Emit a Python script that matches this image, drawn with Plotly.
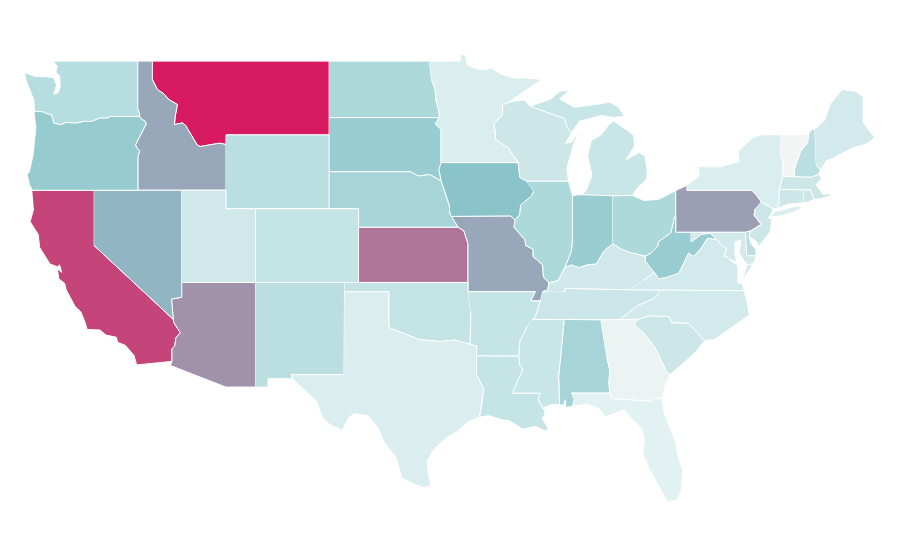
import plotly.graph_objects as go
from plotly.colors import sample_colorscale

# state outlines as (lon, lat), no network here so the plotly topojson can't load
WA = [(-122.76,49),(-117.04,49),(-117.04,46.42),(-116.92,46.17),(-116.92,46),(-118.98,46),(-119,45.93),(-119.6,45.92),(-120.2,45.73),(-120.65,45.74),(-121.2,45.65),(-121.9,45.68),(-122.3,45.55),(-122.75,45.65),(-122.8,45.85),(-122.9,46.1),(-123.2,46.15),(-123.5,46.26),(-124.05,46.27),(-124.1,46.9),(-124.3,47.3),(-124.6,47.9),(-124.73,48.38),(-124,48.17),(-123.2,48.15),(-122.75,48.1),(-122.55,47.7),(-122.75,47.2),(-122.45,47.3),(-122.3,47.6),(-122.35,48.2),(-122.6,48.4),(-122.5,48.75)]
OR = [(-124.05,46.27),(-123.5,46.26),(-123.2,46.15),(-122.9,46.1),(-122.8,45.85),(-122.75,45.65),(-122.3,45.55),(-121.9,45.68),(-121.2,45.65),(-120.65,45.74),(-120.2,45.73),(-119.6,45.92),(-119,45.93),(-118.98,46),(-116.92,46),(-116.78,45.85),(-116.55,45.75),(-116.46,45.6),(-116.67,45.3),(-116.85,45),(-117.2,44.45),(-117.05,44.23),(-116.9,44.15),(-117.03,43.83),(-117.03,42),(-124.2,42),(-124.4,42.3),(-124.55,42.85),(-124.4,43),(-124.15,43.9),(-124.05,44.7),(-123.95,45.5)]
CA = [(-124.2,42),(-120,42),(-120,39),(-114.63,35),(-114.57,34.8),(-114.15,34.27),(-114.45,34),(-114.53,33.55),(-114.72,33.4),(-114.72,32.72),(-117.12,32.53),(-117.25,32.85),(-117.3,33.05),(-117.9,33.6),(-118.4,33.75),(-118.5,34.03),(-119.2,34.15),(-119.6,34.42),(-120.47,34.45),(-120.65,34.9),(-120.9,35.4),(-121.3,35.7),(-121.9,36.6),(-122,36.95),(-122.4,37.2),(-122.5,37.75),(-122.2,37.55),(-122.35,37.95),(-122.5,37.85),(-123,38),(-123.7,38.9),(-123.8,39.6),(-124.35,40.3),(-124.1,41)]
NV = [(-120,42),(-114.05,42),(-114.05,36.2),(-114.75,36.1),(-114.63,35),(-120,39)]
ID = [(-117.04,49),(-116.05,49),(-116.05,48),(-115.7,47.45),(-115.3,47.25),(-114.95,46.93),(-114.35,46.65),(-114.5,46),(-114.55,45.56),(-114,45.65),(-113.8,45.52),(-113.45,45.05),(-113,44.45),(-112.8,44.37),(-111.5,44.55),(-111.05,44.48),(-111.05,42),(-117.03,42),(-117.03,43.83),(-116.9,44.15),(-117.05,44.23),(-117.2,44.45),(-116.85,45),(-116.67,45.3),(-116.46,45.6),(-116.55,45.75),(-116.78,45.85),(-116.92,46),(-116.92,46.17),(-117.04,46.42)]
MT = [(-116.05,49),(-104.05,49),(-104.05,45),(-111.05,45),(-111.05,44.48),(-111.5,44.55),(-112.8,44.37),(-113,44.45),(-113.45,45.05),(-113.8,45.52),(-114,45.65),(-114.55,45.56),(-114.5,46),(-114.35,46.65),(-114.95,46.93),(-115.3,47.25),(-115.7,47.45),(-116.05,48)]
WY = [(-111.05,45),(-104.05,45),(-104.05,41),(-111.05,41)]
UT = [(-114.05,42),(-111.05,42),(-111.05,41),(-109.05,41),(-109.05,37),(-114.05,37)]
AZ = [(-114.05,37),(-109.05,37),(-109.05,31.33),(-111.07,31.33),(-114.82,32.5),(-114.72,32.72),(-114.72,33.4),(-114.53,33.55),(-114.45,34),(-114.15,34.27),(-114.57,34.8),(-114.63,35),(-114.75,36.1),(-114.05,36.2)]
NM = [(-109.05,37),(-103,37),(-103.04,32),(-106.62,32),(-106.53,31.78),(-108.2,31.78),(-108.2,31.33),(-109.05,31.33)]
CO = [(-109.05,41),(-102.05,41),(-102.05,37),(-109.05,37)]
ND = [(-104.05,49),(-97.23,49),(-97.1,48),(-96.85,47.5),(-96.8,46.9),(-96.6,46.3),(-96.56,45.94),(-104.05,45.94)]
SD = [(-104.05,45.94),(-96.56,45.94),(-96.85,45.6),(-96.45,45.3),(-96.45,43.5),(-96.6,43.1),(-96.45,42.5),(-97.2,42.85),(-98,42.77),(-98.5,43),(-104.05,43)]
NE = [(-104.05,43),(-98.5,43),(-98,42.77),(-97.2,42.85),(-96.45,42.5),(-96.1,41.7),(-95.9,41.2),(-95.85,40.7),(-95.3,40),(-102.05,40),(-102.05,41),(-104.05,41)]
KS = [(-102.05,40),(-95.3,40),(-94.9,39.8),(-94.62,39.1),(-94.62,37),(-102.05,37)]
OK = [(-103,37),(-94.62,37),(-94.62,36.5),(-94.43,35.4),(-94.48,33.64),(-95.5,33.88),(-96.5,33.8),(-97.2,33.85),(-97.9,33.9),(-98.9,34.2),(-100,34.56),(-100,36.5),(-103,36.5)]
TX = [(-103,36.5),(-100,36.5),(-100,34.56),(-98.9,34.2),(-97.9,33.9),(-97.2,33.85),(-96.5,33.8),(-95.5,33.88),(-94.48,33.64),(-94.04,33.55),(-94.04,33.02),(-94.04,31.99),(-93.55,31.2),(-93.7,30.3),(-93.85,29.7),(-94.7,29.4),(-95.2,29),(-96.2,28.5),(-97,27.9),(-97.4,27.3),(-97.3,26.6),(-97.15,25.96),(-97.6,25.88),(-98.2,26.05),(-99.1,26.4),(-99.5,27.5),(-100.3,28.3),(-100.7,29.1),(-101.4,29.77),(-102.3,29.88),(-102.7,29.7),(-103.15,28.98),(-104,29.3),(-104.5,29.65),(-104.9,30.55),(-106.53,31.78),(-106.62,32),(-103.04,32)]
MN = [(-97.23,49),(-95.15,49),(-95.15,49.38),(-94.8,49.33),(-94.65,48.75),(-93.8,48.55),(-93,48.6),(-92.4,48.3),(-91.4,48.07),(-90.75,48.1),(-89.6,48),(-90.9,47.3),(-92.02,46.7),(-92.29,46.66),(-92.29,46.1),(-92.85,45.6),(-92.75,45),(-92.75,44.75),(-91.9,44.3),(-91.22,43.5),(-96.45,43.5),(-96.45,45.3),(-96.85,45.6),(-96.56,45.94),(-96.6,46.3),(-96.8,46.9),(-96.85,47.5),(-97.1,48)]
IA = [(-96.45,43.5),(-91.22,43.5),(-91.1,42.7),(-90.65,42.5),(-90.15,41.95),(-90.3,41.7),(-91.05,41.2),(-91.1,40.7),(-91.42,40.38),(-91.73,40.61),(-95.77,40.58),(-95.85,40.7),(-95.9,41.2),(-96.1,41.7),(-96.45,42.5),(-96.6,43.1)]
MO = [(-95.77,40.58),(-91.73,40.61),(-91.42,40.38),(-91.5,40),(-90.75,39.3),(-90.7,39),(-90.2,38.8),(-90.2,38.4),(-89.55,37.95),(-89.5,37.3),(-89.13,36.98),(-89.2,36.6),(-89.55,36.5),(-89.7,36),(-90.37,36),(-90.05,36.5),(-94.62,36.5),(-94.62,39.1),(-94.9,39.8),(-95.3,40),(-95.85,40.7)]
AR = [(-94.62,36.5),(-90.05,36.5),(-90.37,36),(-89.7,36),(-90.05,35.15),(-90.25,35),(-90.6,34.6),(-91.1,33.8),(-91.17,33),(-94.04,33.02),(-94.04,33.55),(-94.48,33.64),(-94.43,35.4)]
LA = [(-94.04,33.02),(-91.17,33),(-91.1,32.5),(-90.9,32.3),(-91.6,31),(-89.73,31),(-89.85,30.65),(-89.55,30.18),(-89.4,30.05),(-89.4,29.8),(-89.6,29.65),(-89.15,29.05),(-89.4,28.95),(-90,29.2),(-90.9,29.05),(-91.8,29.5),(-92.3,29.55),(-93.2,29.78),(-93.85,29.7),(-93.7,30.3),(-93.55,31.2),(-94.04,31.99)]
MS = [(-90.25,35),(-88.2,35),(-88.1,34.9),(-88.47,31.9),(-88.4,30.37),(-89,30.38),(-89.55,30.18),(-89.85,30.65),(-89.73,31),(-91.6,31),(-90.9,32.3),(-91.1,32.5),(-91.17,33),(-91.1,33.8),(-90.6,34.6)]
AL = [(-88.2,35),(-85.6,34.98),(-85.18,32.87),(-85,32.3),(-85.05,31.55),(-85,31),(-87.6,31),(-87.4,30.65),(-87.52,30.28),(-88,30.23),(-88,30.65),(-88.15,30.35),(-88.4,30.37),(-88.47,31.9),(-88.1,34.9)]
GA = [(-85.6,34.98),(-83.1,35),(-83.35,34.7),(-82.75,34.3),(-81.95,33.5),(-81.4,32.6),(-81.1,32.1),(-80.87,32.03),(-81.2,31.5),(-81.45,30.72),(-82.05,30.75),(-82.2,30.57),(-84.86,30.7),(-85,31),(-85.05,31.55),(-85,32.3),(-85.18,32.87)]
FL = [(-87.6,31),(-85,31),(-84.86,30.7),(-82.2,30.57),(-82.05,30.75),(-81.45,30.72),(-81.3,29.9),(-80.9,29.05),(-80.55,28.4),(-80.35,27.5),(-80.03,26.8),(-80.13,25.8),(-80.4,25.2),(-81.1,25.12),(-81.8,26.1),(-82.25,26.8),(-82.75,27.7),(-82.65,28.5),(-82.85,29.1),(-83.5,29.6),(-84,30.1),(-84.35,30),(-85.3,29.7),(-85.7,30.15),(-86.5,30.4),(-87.52,30.28),(-87.4,30.65)]
TN = [(-89.55,36.5),(-88.05,36.5),(-88.07,36.68),(-83.68,36.6),(-81.68,36.59),(-81.7,36.35),(-82.05,36.1),(-83.1,35.75),(-84.32,34.99),(-85.6,34.98),(-88.2,35),(-90.25,35),(-90.05,35.15),(-89.7,36)]
KY = [(-89.55,36.5),(-89.2,36.6),(-89.13,36.98),(-88.5,37.1),(-88.05,37.8),(-87.6,37.95),(-87.1,37.8),(-86.5,37.95),(-85.9,38),(-85.4,38.7),(-84.8,39.1),(-84.2,38.8),(-83.65,38.63),(-82.6,38.42),(-82.6,38.15),(-81.97,37.54),(-82.7,37.1),(-83.68,36.6),(-88.07,36.68),(-88.05,36.5)]
IL = [(-90.65,42.5),(-87.8,42.5),(-87.53,41.7),(-87.53,39.35),(-87.6,38.7),(-88.05,37.8),(-88.5,37.1),(-89.13,36.98),(-89.5,37.3),(-89.55,37.95),(-90.2,38.4),(-90.2,38.8),(-90.7,39),(-90.75,39.3),(-91.5,40),(-91.42,40.38),(-91.1,40.7),(-91.05,41.2),(-90.3,41.7),(-90.15,41.95)]
IN = [(-87.53,41.7),(-87.2,41.75),(-86.8,41.76),(-84.8,41.76),(-84.8,39.1),(-85.4,38.7),(-85.9,38),(-86.5,37.95),(-87.1,37.8),(-87.6,37.95),(-88.05,37.8),(-87.6,38.7),(-87.53,39.35)]
OH = [(-84.8,41.7),(-83.45,41.72),(-82.7,41.45),(-81.7,41.5),(-80.52,41.98),(-80.52,40.64),(-80.65,40.4),(-80.85,39.7),(-81.7,39.2),(-81.75,38.95),(-82.2,38.6),(-82.6,38.42),(-83.65,38.63),(-84.2,38.8),(-84.8,39.1)]
PA = [(-80.52,41.98),(-79.76,42.27),(-79.76,42),(-75.35,42),(-75.05,41.75),(-74.7,41.36),(-75.13,40.98),(-75.2,40.65),(-74.72,40.15),(-75.42,39.8),(-75.79,39.72),(-80.52,39.72),(-80.52,40.64)]
NY = [(-79.76,42.27),(-79.05,42.7),(-78.9,42.9),(-79.05,43.27),(-77.5,43.27),(-76.2,43.55),(-76.3,44.1),(-75.3,44.85),(-74.7,45),(-73.35,45.01),(-73.4,44),(-73.25,43.55),(-73.25,42.75),(-73.5,42.05),(-73.5,41.3),(-73.65,41),(-73.9,41),(-74.7,41.36),(-75.05,41.75),(-75.35,42),(-79.76,42),None,
      (-74.03,40.6),(-73.75,40.85),(-73.2,40.95),(-72.3,41.15),(-71.87,41.07),(-72.5,40.8),(-73.5,40.6)]
VT = [(-73.35,45.01),(-71.5,45.01),(-71.55,44.6),(-72.05,44.1),(-72.45,43.2),(-72.46,42.73),(-73.25,42.75),(-73.25,43.55),(-73.4,44)]
NH = [(-71.5,45.01),(-71.3,45.3),(-71.08,45.3),(-70.98,43.4),(-70.7,43.07),(-70.82,42.87),(-71.3,42.7),(-72.46,42.73),(-72.45,43.2),(-72.05,44.1),(-71.55,44.6)]
ME = [(-71.08,45.3),(-70.4,45.8),(-70.25,46.2),(-70,46.7),(-69.23,47.46),(-68.3,47.36),(-67.8,47.07),(-67.8,45.7),(-67.45,45.3),(-67,44.85),(-67.6,44.5),(-68.5,44.3),(-69,44.1),(-69.8,43.75),(-70.3,43.6),(-70.7,43.07),(-70.98,43.4)]
MA = [(-73.5,42.05),(-73.25,42.75),(-72.46,42.73),(-71.3,42.7),(-70.82,42.87),(-70.6,42.65),(-71,42.3),(-70.7,42),(-70.5,41.78),(-70.05,41.8),(-70.2,42.07),(-69.95,41.7),(-70.6,41.55),(-71.12,41.5),(-71.38,42.02),(-71.8,42.02)]
RI = [(-71.8,42.02),(-71.38,42.02),(-71.12,41.5),(-71.5,41.37),(-71.85,41.32)]
CT = [(-73.5,42.05),(-71.8,42.02),(-71.85,41.32),(-72.9,41.25),(-73.65,41),(-73.5,41.3)]
NJ = [(-74.7,41.36),(-73.9,41),(-74.05,40.65),(-74.25,40.5),(-74,40.45),(-74.1,39.75),(-74.9,38.93),(-75,39.2),(-75.55,39.5),(-75.42,39.8),(-74.72,40.15),(-75.2,40.65),(-75.13,40.98)]
DE = [(-75.79,39.72),(-75.42,39.8),(-75.55,39.5),(-75.4,39.1),(-75.1,38.8),(-75.05,38.45),(-75.7,38.46)]
MD = [(-79.48,39.72),(-75.79,39.72),(-75.7,38.46),(-75.05,38.45),(-75.25,38.03),(-75.65,37.95),(-75.9,38.2),(-76.2,38.6),(-76.1,39.3),(-76.5,39.2),(-76.5,38.5),(-76.35,38.1),(-76.9,38.27),(-77.05,38.4),(-77.25,38.4),(-77.05,38.8),(-77.5,39.1),(-77.72,39.32),(-78.2,39.68),(-78.8,39.6),(-79.48,39.2)]
WV = [(-80.52,40.64),(-80.52,39.72),(-79.48,39.72),(-79.48,39.2),(-78.8,39.6),(-78.2,39.68),(-77.72,39.32),(-78.35,39.4),(-78.87,38.77),(-79.3,38.42),(-79.65,38.58),(-80.3,37.5),(-81.2,37.25),(-81.68,37.2),(-81.97,37.54),(-82.6,38.15),(-82.6,38.42),(-82.2,38.6),(-81.75,38.95),(-81.7,39.2),(-80.85,39.7),(-80.65,40.4)]
VA = [(-83.68,36.6),(-81.68,36.59),(-75.87,36.55),(-76,36.93),(-76.3,37),(-76.3,37.5),(-76.3,37.9),(-76.9,38.27),(-77.05,38.4),(-77.25,38.4),(-77.05,38.8),(-77.5,39.1),(-77.72,39.32),(-78.35,39.4),(-78.87,38.77),(-79.3,38.42),(-79.65,38.58),(-80.3,37.5),(-81.2,37.25),(-81.68,37.2),(-81.97,37.54),(-82.7,37.1),None,
      (-75.65,37.95),(-75.25,38.03),(-75.95,37.15)]
NC = [(-81.68,36.59),(-75.87,36.55),(-75.5,35.25),(-76.5,34.7),(-77.9,33.9),(-78.55,33.86),(-79.67,34.8),(-80.8,34.82),(-80.93,35.1),(-81.05,35.15),(-82.3,35.2),(-83.1,35),(-84.32,34.99),(-83.1,35.75),(-82.05,36.1),(-81.7,36.35)]
SC = [(-83.1,35),(-82.3,35.2),(-81.05,35.15),(-80.93,35.1),(-80.8,34.82),(-79.67,34.8),(-78.55,33.86),(-79.2,33.2),(-79.9,32.7),(-80.87,32.03),(-81.1,32.1),(-81.4,32.6),(-81.95,33.5),(-82.75,34.3),(-83.35,34.7)]
WI = [(-92.02,46.7),(-92.29,46.66),(-92.29,46.1),(-92.85,45.6),(-92.75,45),(-92.75,44.75),(-91.9,44.3),(-91.22,43.5),(-91.1,42.7),(-90.65,42.5),(-87.8,42.5),(-87.9,43.2),(-87.7,43.8),(-87.5,44.4),(-87.05,45.25),(-87.6,44.6),(-88,44.55),(-87.6,45.1),(-87.85,45.35),(-88.1,45.9),(-89,46.15),(-90.4,46.55),(-90.8,46.9),(-91.2,46.85)]
MI = [(-86.8,41.76),(-84.8,41.7),(-83.45,41.72),(-83.15,42.1),(-82.5,42.6),(-82.45,43),(-82.6,43.85),(-83,44.05),(-83.9,43.65),(-83.3,44.4),(-83.4,45),(-84.7,45.75),(-85,45.6),(-85.6,45),(-86.25,44.7),(-86.5,43.9),(-86.2,42.8),(-86.6,42),None,
      (-90.4,46.55),(-89,46.95),(-88.4,47.35),(-87.75,47.45),(-88.4,46.95),(-87.4,46.5),(-86,46.65),(-85,46.77),(-84.4,46.5),(-84,46),(-84.7,45.95),(-85.6,46.05),(-86.5,45.85),(-87.05,45.75),(-87.6,45.1),(-87.85,45.35),(-88.1,45.9),(-89,46.15)]

states = ['MT', 'CA', 'KS', 'AZ', 'PA', 'ID', 'MO', 'NV', 'IA', 'OR', 'WV', 'IN', 'SD', 'AL', 'NE', 'ND', 'OH', 'IL', 'WA', 'WY', 'NM', 'NH', 'DE',
          'OK', 'CO', 'AR', 'LA', 'MS', 'MI', 'TN', 'WI', 'SC', 'NJ', 'MA', 'CT', 'RI', 'UT', 'KY', 'ME', 'VA', 'NC', 'MD', 'TX', 'MN', 'NY', 'FL', 'GA', 'VT']
values = [100, 85, 68, 58, 53, 50, 50, 45, 40, 36, 35, 35, 35, 30, 30, 27, 27, 27, 24, 22, 22, 22, 22,
          19, 18, 18, 18, 17, 17, 16, 15, 15, 15, 15, 15, 15, 14, 14, 13, 13, 13, 13, 10, 10, 10, 6, 2.5, 0]
outlines = [MT, CA, KS, AZ, PA, ID, MO, NV, IA, OR, WV, IN, SD, AL, NE, ND, OH, IL, WA, WY, NM, NH, DE,
            OK, CO, AR, LA, MS, MI, TN, WI, SC, NJ, MA, CT, RI, UT, KY, ME, VA, NC, MD, TX, MN, NY, FL, GA, VT]

scale = [[0, '#f3f5f5'], [0.06, '#e2f1f1'], [0.1, '#daedef'], [0.24, '#b6dddf'], [0.36, '#96ccd0'], [0.4, '#8bc3cb'], [1, '#d81b60']]

fig = go.Figure()
for state, value, outline in zip(states, values, outlines):
    lons = [p[0] if p else None for p in outline]
    lats = [p[1] if p else None for p in outline]
    fig.add_trace(go.Scatter(
        x=lons,
        y=lats,
        mode='lines',
        fill='toself',
        fillcolor=sample_colorscale(scale, value / 100)[0],
        line=dict(color='white', width=1),
        name=state,
        text=f'{state}: {value}',
        hoverinfo='text',
        hoveron='fills',
    ))

# plot sits 8px into the page, ranges are shifted to make up for it
fig.update_xaxes(range=[-125.85, -64.75], visible=False)
fig.update_yaxes(range=[21.52, 51.88], visible=False)
fig.update_layout(width=900, height=560, margin=dict(l=0, r=0, t=0, b=0),
                  paper_bgcolor='white', plot_bgcolor='white', showlegend=False)
fig.write_html("out.html")
